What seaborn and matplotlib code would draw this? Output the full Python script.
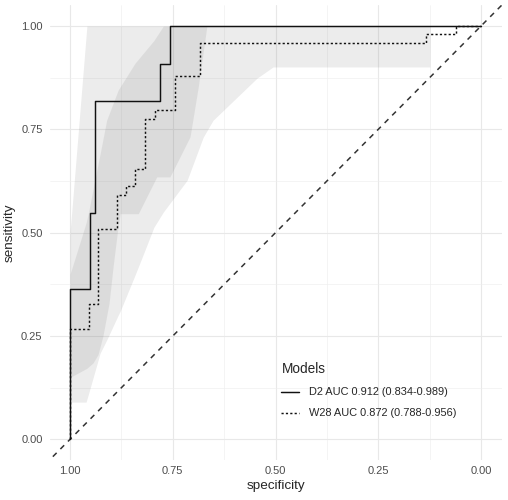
import numpy as np
import pandas as pd
import matplotlib
matplotlib.use("Agg")
import matplotlib.pyplot as plt
import seaborn as sns

# ROC coordinates
d2_spec = [1.0, 1.0, 0.951, 0.951, 0.939, 0.939, 0.781, 0.781, 0.757, 0.757, 0.0]
d2_sens = [0.0, 0.364, 0.364, 0.547, 0.547, 0.819, 0.819, 0.909, 0.909, 1.0, 1.0]

w28_spec = [1.0, 1.0, 0.955, 0.955, 0.933, 0.933, 0.886, 0.886, 0.865, 0.865, 0.841, 0.841,
            0.818, 0.818, 0.793, 0.793, 0.745, 0.745, 0.683, 0.683, 0.134, 0.134, 0.061, 0.061, 0.0]
w28_sens = [0.0, 0.266, 0.266, 0.327, 0.327, 0.510, 0.510, 0.592, 0.592, 0.612, 0.612, 0.653,
            0.653, 0.776, 0.776, 0.796, 0.796, 0.878, 0.878, 0.960, 0.960, 0.981, 0.981, 1.0, 1.0]

# confidence bands (sensitivity CI at given specificities)
d2_ci_spec = [1.0, 0.985, 0.97, 0.959, 0.944, 0.932, 0.92, 0.905, 0.895, 0.885, 0.878,
              0.834, 0.789, 0.757, 0.708, 0.688, 0.667, 0.0]
d2_ci_low = [0.150, 0.158, 0.166, 0.172, 0.185, 0.205, 0.25, 0.33, 0.42, 0.50, 0.546,
             0.546, 0.635, 0.635, 0.732, 0.853, 1.0, 1.0]
d2_ci_high = [0.50, 0.683, 0.866, 1.0, 1.0, 1.0, 1.0, 1.0, 1.0, 1.0, 1.0,
              1.0, 1.0, 1.0, 1.0, 1.0, 1.0, 1.0]

w28_ci_spec = [1.0, 0.981, 0.961, 0.956, 0.935, 0.927, 0.911, 0.883, 0.878, 0.842, 0.822,
               0.796, 0.773, 0.715, 0.676, 0.652, 0.545, 0.506, 0.124, 0.123, 0.0]
w28_ci_low = [0.09, 0.09, 0.09, 0.107, 0.18, 0.208, 0.24, 0.30, 0.31, 0.397, 0.447,
              0.513, 0.55, 0.627, 0.731, 0.772, 0.874, 0.901, 0.901, 1.0, 1.0]
w28_ci_high = [0.40, 0.46, 0.524, 0.545, 0.651, 0.69, 0.772, 0.845, 0.853, 0.91, 0.934,
               0.965, 1.0, 1.0, 1.0, 1.0, 1.0, 1.0, 1.0, 1.0, 1.0]

labels = ["D2 AUC 0.912 (0.834-0.989)", "W28 AUC 0.872 (0.788-0.956)"]
ticks = [1.0, 0.75, 0.5, 0.25, 0.0]
tick_labels = ["1.00", "0.75", "0.50", "0.25", "0.00"]

roc = pd.concat([
    pd.DataFrame({"specificity": d2_spec, "sensitivity": d2_sens, "model": labels[0]}),
    pd.DataFrame({"specificity": w28_spec, "sensitivity": w28_sens, "model": labels[1]}),
])

sns.set_theme(style="white")
plt.rcParams["font.family"] = ["Liberation Sans", "DejaVu Sans"]

fig = plt.figure(figsize=(5.08, 5.0), dpi=100)
ax = fig.add_axes([49.5 / 508, 40 / 500, 452 / 508, 454.6 / 500])

# bands
ax.fill_between(d2_ci_spec, d2_ci_low, d2_ci_high, color="grey", alpha=0.15, lw=0)
ax.fill_between(w28_ci_spec, w28_ci_low, w28_ci_high, color="grey", alpha=0.15, lw=0)

# chance line
ax.axline((1, 0), (0, 1), color="#333333", lw=1.1, dashes=(3.5, 3.5), zorder=2)

sns.lineplot(data=roc, x="specificity", y="sensitivity", style="model",
             sort=False, estimator=None, color="#111111", linewidth=1.05,
             dashes={labels[0]: "", labels[1]: (1.5, 1.5)}, ax=ax, zorder=3)

ax.set_xlim(1.05, -0.05)
ax.set_ylim(-0.05, 1.05)
ax.set_xticks(ticks)
ax.set_xticklabels(tick_labels)
ax.set_yticks(ticks[::-1])
ax.set_yticklabels(tick_labels[::-1])
ax.set_xticks([0.875, 0.625, 0.375, 0.125], minor=True)
ax.set_yticks([0.125, 0.375, 0.625, 0.875], minor=True)
ax.grid(which="major", color="#e8e8e8", lw=0.8)
ax.grid(which="minor", color="#ededed", lw=0.4)
ax.set_axisbelow(True)
for s in ax.spines.values():
    s.set_visible(False)
ax.tick_params(which="both", length=0, labelsize=8.0, labelcolor="#4d4d4d")
ax.tick_params(axis="x", pad=4)
ax.tick_params(axis="y", pad=5)
ax.set_xlabel("specificity", fontsize=9.7, labelpad=3)
ax.set_ylabel("sensitivity", fontsize=9.7, labelpad=4)

leg = ax.legend(title="Models", frameon=False, fontsize=7.9, title_fontsize=9.8,
                loc="upper left", bbox_to_anchor=(276 / 508, 1 - 357 / 500),
                bbox_transform=fig.transFigure, borderpad=0, handlelength=1.6,
                handletextpad=0.9, labelspacing=1.0, alignment="left")

fig.savefig("out.png", dpi=100)
